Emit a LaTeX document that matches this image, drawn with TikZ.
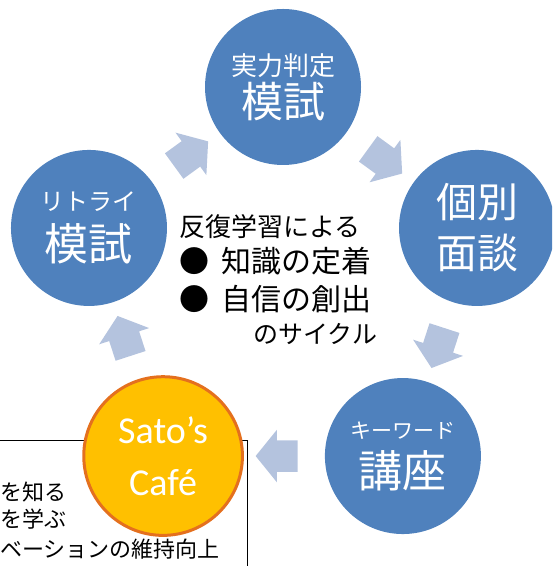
\documentclass[tikz,border=0pt]{standalone}
\usepackage{fontspec}
\setmainfont{Noto Sans CJK JP}
\newfontfamily\cafefont{Carlito}
\usetikzlibrary{calc,shapes.arrows}
\definecolor{stepblue}{HTML}{4F81BD}
\definecolor{arrowblue}{HTML}{B4C3DE}
\definecolor{cafegold}{HTML}{FFC000}
\definecolor{cafeorange}{HTML}{E4701E}
% font size given in pixels of the picture (1px = 0.75pt)
\newcommand{\pxsize}[2]{\fontsize{\the\dimexpr #1pt*3/4\relax}{\the\dimexpr #2pt*3/4\relax}\selectfont}
\tikzset{
  stepnode/.style={circle, fill=stepblue, text=white, minimum size=117pt, inner sep=0pt, align=center},
  cafenode/.style={circle, fill=cafegold, draw=cafeorange, line width=2.25pt, text=white, minimum size=119pt, inner sep=0pt, align=center},
  cyclearrow/.style={single arrow, fill=arrowblue, inner xsep=0pt, inner ysep=11.6pt, minimum height=31.5pt,
    single arrow head extend=7.9pt, single arrow tip angle=102},
  cycletext/.style={anchor=base west, inner sep=0pt}
}
\begin{document}
\begin{tikzpicture}[x=0.75pt, y=0.75pt]
  \useasboundingbox (0,0) rectangle (552,566);
  \clip (0,0) rectangle (552,566);
  % note box behind the cafe
  \draw[line width=0.75pt] (-10,-10) rectangle (247,125);
  \node[cycletext, font=\pxsize{22}{28}] (note1) at (0,65) {を知る};
  \node[cycletext, font=\pxsize{22}{28}] (note2) at (0,38) {を学ぶ};
  \node[cycletext, font=\pxsize{22}{28}] (note3) at (0,8) {ベーションの維持向上};
  % the five steps of the cycle
  \begin{scope}[shift={(283,275)}]
    \draw
      (90:204) node[stepnode, font=\pxsize{26}{42}] (mock) {実力判定\\{\pxsize{42}{42}模試}}
      (18:204) node[stepnode, font=\pxsize{41}{51}] (talk) {個別\\面談}
      (-54:204) node[stepnode, font=\pxsize{21}{49}] (lecture) {キーワード\\{\pxsize{44}{44}講座}}
      (-126:204) node[cafenode, font=\cafefont\pxsize{38}{52}] (cafe) {Sato’s\\Café}
      (162:204) node[stepnode, font=\pxsize{24}{50}] (retry) {リトライ\\{\pxsize{44}{44}模試}};
  \end{scope}
  \node[cyclearrow, rotate=-36] (arrowA) at ($(mock)!0.5!(talk)$) {};
  \node[cyclearrow, rotate=-108] (arrowB) at ($(talk)!0.5!(lecture)$) {};
  \node[cyclearrow, rotate=180] (arrowC) at ($(lecture)!0.5!(cafe)$) {};
  \node[cyclearrow, rotate=108] (arrowD) at ($(cafe)!0.5!(retry)$) {};
  \node[cyclearrow, rotate=36] (arrowE) at ($(retry)!0.5!(mock)$) {};
  % text in the middle
  \node[cycletext, font=\pxsize{26}{30}] (cycletitle) at (179,329) {反復学習による};
  \node[cycletext, font=\pxsize{30}{34}] (itemA) at (179,293) {\makebox[31.5pt][l]{●}知識の定着};
  \node[cycletext, font=\pxsize{30}{34}] (itemB) at (179,255) {\makebox[31.5pt][l]{●}自信の創出};
  \node[cycletext, font=\pxsize{25}{30}] (cyclefoot) at (253,222) {のサイクル};
\end{tikzpicture}
\end{document}
